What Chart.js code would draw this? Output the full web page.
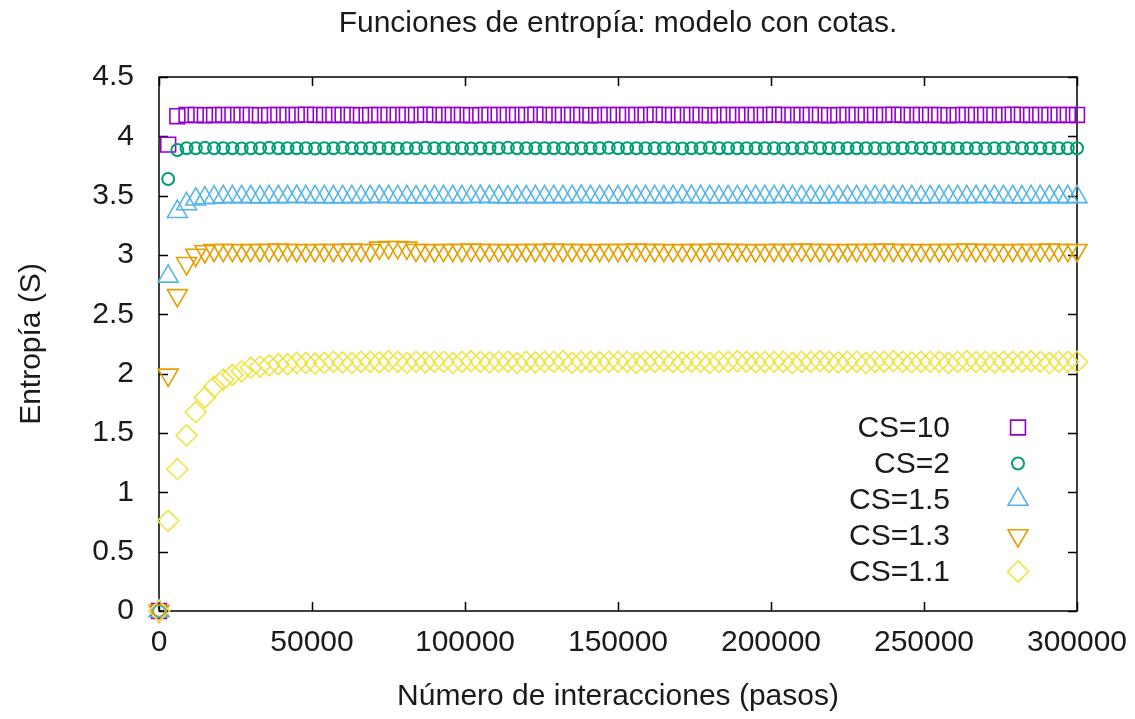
<!DOCTYPE html>
<html>
<head>
<meta charset="utf-8">
<title>Funciones de entropía: modelo con cotas.</title>
<script src="https://cdn.jsdelivr.net/npm/chart.js@4.4.1/dist/chart.umd.min.js"></script>
<style>
  html, body { margin: 0; padding: 0; background: #ffffff; }
  #wrap { width: 1135px; height: 719px; }
</style>
</head>
<body>
<div id="wrap"><canvas id="grafico" width="1135" height="719"></canvas></div>
<script>
// Pasos de la simulación (muestreo cada 3000 interacciones)
const pasos = [
  0, 3000, 6000, 9000, 12000, 15000, 18000, 21000, 24000, 27000,
  30000, 33000, 36000, 39000, 42000, 45000, 48000, 51000, 54000, 57000,
  60000, 63000, 66000, 69000, 72000, 75000, 78000, 81000, 84000, 87000,
  90000, 93000, 96000, 99000, 102000, 105000, 108000, 111000, 114000, 117000,
  120000, 123000, 126000, 129000, 132000, 135000, 138000, 141000, 144000, 147000,
  150000, 153000, 156000, 159000, 162000, 165000, 168000, 171000, 174000, 177000,
  180000, 183000, 186000, 189000, 192000, 195000, 198000, 201000, 204000, 207000,
  210000, 213000, 216000, 219000, 222000, 225000, 228000, 231000, 234000, 237000,
  240000, 243000, 246000, 249000, 252000, 255000, 258000, 261000, 264000, 267000,
  270000, 273000, 276000, 279000, 282000, 285000, 288000, 291000, 294000, 297000,
  300000
];

// Entropía S para cada cota CS
const entropiaCS10 = [
  0, 3.93, 4.17, 4.18, 4.18, 4.178, 4.18, 4.18, 4.18, 4.18,
  4.18, 4.178, 4.18, 4.18, 4.18, 4.18, 4.183, 4.18, 4.18, 4.18,
  4.18, 4.18, 4.178, 4.18, 4.18, 4.18, 4.18, 4.18, 4.18, 4.183,
  4.18, 4.18, 4.18, 4.18, 4.178, 4.18, 4.18, 4.18, 4.18, 4.18,
  4.18, 4.183, 4.18, 4.18, 4.18, 4.18, 4.18, 4.178, 4.18, 4.18,
  4.18, 4.18, 4.18, 4.18, 4.183, 4.18, 4.18, 4.18, 4.18, 4.18,
  4.178, 4.18, 4.18, 4.18, 4.18, 4.18, 4.18, 4.183, 4.18, 4.18,
  4.18, 4.18, 4.18, 4.178, 4.18, 4.18, 4.18, 4.18, 4.18, 4.18,
  4.183, 4.18, 4.18, 4.18, 4.18, 4.18, 4.178, 4.18, 4.18, 4.18,
  4.18, 4.18, 4.18, 4.183, 4.18, 4.18, 4.18, 4.18, 4.18, 4.18,
  4.18
];
const entropiaCS2 = [
  0, 3.64, 3.885, 3.90, 3.90, 3.903, 3.90, 3.90, 3.90, 3.898,
  3.90, 3.90, 3.903, 3.90, 3.90, 3.90, 3.90, 3.898, 3.90, 3.90,
  3.903, 3.90, 3.90, 3.90, 3.90, 3.90, 3.898, 3.90, 3.90, 3.903,
  3.90, 3.90, 3.90, 3.90, 3.898, 3.90, 3.90, 3.90, 3.903, 3.90,
  3.90, 3.90, 3.90, 3.90, 3.90, 3.898, 3.90, 3.90, 3.90, 3.903,
  3.90, 3.90, 3.90, 3.90, 3.90, 3.90, 3.90, 3.898, 3.90, 3.90,
  3.903, 3.90, 3.90, 3.90, 3.90, 3.90, 3.90, 3.90, 3.898, 3.90,
  3.90, 3.903, 3.90, 3.90, 3.90, 3.90, 3.90, 3.90, 3.90, 3.898,
  3.90, 3.90, 3.903, 3.90, 3.90, 3.90, 3.90, 3.90, 3.90, 3.90,
  3.898, 3.90, 3.90, 3.903, 3.90, 3.90, 3.90, 3.90, 3.90, 3.90,
  3.90
];
const entropiaCS15 = [
  0, 2.82, 3.365, 3.43, 3.47, 3.48, 3.485, 3.49, 3.49, 3.49,
  3.49, 3.488, 3.49, 3.49, 3.49, 3.493, 3.49, 3.49, 3.49, 3.488,
  3.49, 3.49, 3.49, 3.49, 3.493, 3.49, 3.49, 3.49, 3.488, 3.49,
  3.49, 3.49, 3.49, 3.49, 3.49, 3.493, 3.49, 3.49, 3.488, 3.49,
  3.49, 3.49, 3.49, 3.49, 3.49, 3.49, 3.493, 3.49, 3.49, 3.49,
  3.488, 3.49, 3.49, 3.49, 3.49, 3.49, 3.49, 3.493, 3.49, 3.49,
  3.49, 3.488, 3.49, 3.49, 3.49, 3.49, 3.49, 3.49, 3.493, 3.49,
  3.49, 3.49, 3.488, 3.49, 3.49, 3.49, 3.49, 3.49, 3.49, 3.493,
  3.49, 3.49, 3.49, 3.488, 3.49, 3.49, 3.49, 3.49, 3.49, 3.49,
  3.493, 3.49, 3.49, 3.49, 3.488, 3.49, 3.49, 3.49, 3.49, 3.49,
  3.49
];
const entropiaCS13 = [
  0, 1.99, 2.66, 2.93, 3.00, 3.03, 3.04, 3.04, 3.04, 3.038,
  3.04, 3.04, 3.04, 3.043, 3.04, 3.04, 3.038, 3.04, 3.04, 3.04,
  3.04, 3.043, 3.04, 3.04, 3.06, 3.065, 3.065, 3.06, 3.04, 3.04,
  3.038, 3.04, 3.04, 3.04, 3.043, 3.04, 3.04, 3.04, 3.038, 3.04,
  3.04, 3.04, 3.04, 3.043, 3.04, 3.04, 3.04, 3.038, 3.04, 3.04,
  3.04, 3.04, 3.043, 3.04, 3.04, 3.04, 3.038, 3.04, 3.04, 3.04,
  3.04, 3.043, 3.04, 3.04, 3.04, 3.038, 3.04, 3.04, 3.04, 3.04,
  3.043, 3.04, 3.04, 3.04, 3.038, 3.04, 3.04, 3.04, 3.04, 3.043,
  3.04, 3.04, 3.04, 3.038, 3.04, 3.04, 3.04, 3.04, 3.043, 3.04,
  3.04, 3.04, 3.038, 3.04, 3.04, 3.04, 3.04, 3.043, 3.04, 3.04,
  3.04
];
const entropiaCS11 = [
  0, 0.76, 1.195, 1.48, 1.675, 1.80, 1.89, 1.95, 1.99, 2.02,
  2.05, 2.06, 2.07, 2.08, 2.08, 2.09, 2.09, 2.085, 2.09, 2.10,
  2.095, 2.09, 2.10, 2.10, 2.095, 2.105, 2.10, 2.09, 2.10, 2.095,
  2.10, 2.10, 2.09, 2.10, 2.105, 2.10, 2.095, 2.10, 2.10, 2.09,
  2.10, 2.095, 2.10, 2.10, 2.105, 2.09, 2.10, 2.10, 2.095, 2.10,
  2.10, 2.10, 2.09, 2.10, 2.10, 2.105, 2.10, 2.095, 2.10, 2.10,
  2.09, 2.10, 2.10, 2.105, 2.10, 2.095, 2.10, 2.10, 2.10, 2.09,
  2.10, 2.10, 2.105, 2.10, 2.095, 2.10, 2.10, 2.09, 2.10, 2.10,
  2.105, 2.10, 2.095, 2.10, 2.10, 2.10, 2.09, 2.10, 2.105, 2.10,
  2.10, 2.095, 2.10, 2.10, 2.10, 2.105, 2.10, 2.09, 2.10, 2.10,
  2.10
];

// Etiquetas de las series y de los ejes
const etiquetasSeries = ['CS=10', 'CS=2', 'CS=1.5', 'CS=1.3', 'CS=1.1'];
const valoresSeries = [entropiaCS10, entropiaCS2, entropiaCS15, entropiaCS13, entropiaCS11];
const ticksX = [0, 50000, 100000, 150000, 200000, 250000, 300000];
const ticksY = [0, 0.5, 1, 1.5, 2, 2.5, 3, 3.5, 4, 4.5];

const FUENTE = "'Liberation Sans', Arial, Helvetica, sans-serif";
const TEXTO = '#1a1a1a';

// Estilo de marcador de cada serie (símbolos huecos)
const marcadores = [
  { color: '#9400d3', pointStyle: 'rect',     radius: 10.5, rotation: 0,   borderWidth: 1.6 },
  { color: '#009e73', pointStyle: 'circle',   radius: 6,    rotation: 0,   borderWidth: 2.0 },
  { color: '#56b4e9', pointStyle: 'triangle', radius: 11.5, rotation: 0,   borderWidth: 1.6 },
  { color: '#e69f00', pointStyle: 'triangle', radius: 11.5, rotation: 180, borderWidth: 1.6 },
  { color: '#f0e442', pointStyle: 'rectRot',  radius: 10.5, rotation: 0,   borderWidth: 1.6 }
];

const datasets = valoresSeries.map((serie, k) => ({
  label: etiquetasSeries[k],
  data: pasos.map((x, i) => ({ x: x, y: serie[i] })),
  showLine: false,
  clip: false,
  order: valoresSeries.length - k,
  pointStyle: marcadores[k].pointStyle,
  pointRadius: marcadores[k].radius,
  pointHoverRadius: marcadores[k].radius,
  pointRotation: marcadores[k].rotation,
  pointBorderWidth: marcadores[k].borderWidth,
  borderColor: marcadores[k].color,
  backgroundColor: 'rgba(0,0,0,0)',
  pointBackgroundColor: 'rgba(0,0,0,0)'
}));

// Marco del gráfico con marcas hacia dentro en los cuatro lados
const marcoConMarcas = {
  id: 'marcoConMarcas',
  beforeDatasetsDraw(chart) {
    const { ctx, chartArea: a, scales } = chart;
    const largo = 9;
    ctx.save();
    ctx.strokeStyle = '#000000';
    ctx.lineWidth = 1.5;
    ctx.beginPath();
    scales.x.ticks.forEach(t => {
      const px = Math.round(scales.x.getPixelForValue(t.value)) + 0.5;
      ctx.moveTo(px, a.bottom); ctx.lineTo(px, a.bottom - largo);
      ctx.moveTo(px, a.top);    ctx.lineTo(px, a.top + largo);
    });
    scales.y.ticks.forEach(t => {
      const py = Math.round(scales.y.getPixelForValue(t.value)) + 0.5;
      ctx.moveTo(a.left, py);  ctx.lineTo(a.left + largo, py);
      ctx.moveTo(a.right, py); ctx.lineTo(a.right - largo, py);
    });
    ctx.stroke();
    ctx.strokeRect(a.left, a.top, a.right - a.left, a.bottom - a.top);
    ctx.restore();
  }
};

// Leyenda dentro del área: texto alineado a la derecha y símbolo a su lado
const leyendaInterna = {
  id: 'leyendaInterna',
  afterDatasetsDraw(chart) {
    const { ctx } = chart;
    const xTexto = 950, xSimbolo = 1018, yInicial = 427.5, paso = 36;
    ctx.save();
    ctx.font = '30px ' + FUENTE;
    ctx.textAlign = 'right';
    ctx.textBaseline = 'middle';
    ctx.fillStyle = TEXTO;
    etiquetasSeries.forEach((txt, k) => {
      const y = yInicial + k * paso;
      ctx.fillText(txt, xTexto, y + 1);
      const m = marcadores[k];
      ctx.strokeStyle = m.color;
      ctx.fillStyle = 'rgba(0,0,0,0)';
      ctx.lineWidth = m.borderWidth;
      Chart.helpers.drawPoint(ctx, {
        pointStyle: m.pointStyle, radius: m.radius, rotation: m.rotation, borderWidth: m.borderWidth
      }, xSimbolo, y);
      ctx.fillStyle = TEXTO;
    });
    ctx.restore();
  }
};

new Chart(document.getElementById('grafico'), {
  type: 'scatter',
  data: { datasets },
  plugins: [marcoConMarcas, leyendaInterna],
  options: {
    responsive: false,
    animation: false,
    events: [],
    layout: { padding: { top: 0, right: 58, bottom: 0, left: 0 } },
    plugins: {
      legend: { display: false },
      tooltip: { enabled: false },
      title: {
        display: true,
        fullSize: false,
        text: 'Funciones de entropía: modelo con cotas.',
        color: TEXTO,
        font: { family: FUENTE, size: 30, weight: 'normal', lineHeight: 1.2 },
        padding: { top: 6, bottom: 35 }
      }
    },
    scales: {
      x: {
        type: 'linear',
        min: 0, max: 300000,
        afterFit(scale) {
          scale.height = 108;
          scale.paddingLeft = 0;
          scale.paddingRight = 0;
        },
        afterBuildTicks(scale) { scale.ticks = ticksX.map(v => ({ value: v })); },
        grid: { display: false, drawTicks: false },
        border: { display: false },
        ticks: {
          color: TEXTO, padding: 14, maxRotation: 0, autoSkip: false,
          font: { family: FUENTE, size: 30 },
          callback: v => String(v)
        },
        title: {
          display: true,
          text: 'Número de interacciones (pasos)',
          color: TEXTO,
          font: { family: FUENTE, size: 30, lineHeight: 1.2 },
          padding: { top: 0, bottom: 4 }
        }
      },
      y: {
        type: 'linear',
        min: 0, max: 4.5,
        afterFit(scale) {
          scale.width = 159;
          scale.paddingTop = 0;
          scale.paddingBottom = 0;
        },
        afterBuildTicks(scale) { scale.ticks = ticksY.map(v => ({ value: v })); },
        grid: { display: false, drawTicks: false },
        border: { display: false },
        ticks: {
          color: TEXTO, padding: 25, autoSkip: false,
          font: { family: FUENTE, size: 30 },
          callback: v => String(v)
        },
        title: {
          display: true,
          text: 'Entropía (S)',
          color: TEXTO,
          font: { family: FUENTE, size: 30, lineHeight: 1.2 },
          padding: { top: 14, bottom: 0 }
        }
      }
    }
  }
});
</script>
</body>
</html>
